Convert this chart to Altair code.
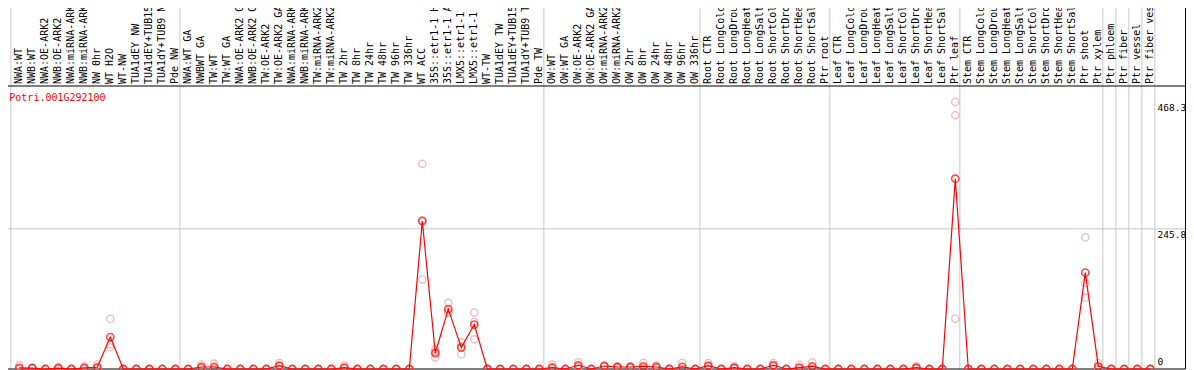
import altair as alt
import pandas as pd

gene = "Potri.001G292100"

categories = [
    "NWA:WT", "NWB:WT", "NWA:OE-ARK2", "NWB:OE-ARK2", "NWA:miRNA-ARK2", "NWB:miRNA-ARK2",
    "NW 0hr", "WT H2O", "WT-NW", "TUA1dEY NW", "TUA1dEY+TUB15 NW", "TUA1dY+TUB9 NW", "Pde NW",
    "NWA:WT GA", "NWBWT GA", "TW:WT", "TW:WT GA", "NWA:OE-ARK2 GA", "NWB:OE-ARK2 GA",
    "TW:OE-ARK2", "TW:OE-ARK2 GA", "NWA:miRNA-ARK2", "NWB:miRNA-ARK2", "TW:miRNA-ARK2",
    "TW:miRNA-ARK2", "TW 2hr", "TW 8hr", "TW 24hr", "TW 48hr", "TW 96hr", "TW 336hr",
    "WT ACC", "35S::etr1-1 H2O", "35S::etr1-1 ACC", "LMX5::etr1-1 H2O", "LMX5::etr1-1 ACC",
    "WT-TW", "TUA1dEY TW", "TUA1dEY+TUB15 TW", "TUA1dY+TUB9 TW", "Pde TW",
    "OW:WT", "OW:WT GA", "OW:OE-ARK2", "OW:OE-ARK2 GA", "OW:miRNA-ARK2", "OW:miRNA-ARK2",
    "OW 2hr", "OW 8hr", "OW 24hr", "OW 48hr", "OW 96hr", "OW 336hr",
    "Root CTR", "Root LongCold", "Root LongDrought", "Root LongHeat", "Root LongSalt",
    "Root ShortCold", "Root ShortDrought", "Root ShortHeat", "Root ShortSalt", "Ptr root",
    "Leaf CTR", "Leaf LongCold", "Leaf LongDrought", "Leaf LongHeat", "Leaf LongSalt",
    "Leaf ShortCold", "Leaf ShortDrought", "Leaf ShortHeat", "Leaf ShortSalt", "Ptr leaf",
    "Stem CTR", "Stem LongCold", "Stem LongDrought", "Stem LongHeat", "Stem LongSalt",
    "Stem ShortCold", "Stem ShortDrought", "Stem ShortHeat", "Stem ShortSalt", "Ptr shoot",
    "Ptr xylem", "Ptr phloem", "Ptr fiber", "Ptr vessel", "Ptr fiber vessel",
]

mean_values = [
    2, 1.5, 0, 1.5, 0, 2, 3, 56, 0, 0, 0, 0, 0,
    0, 3.5, 3.5, 0, 0, 0, 0, 6, 0, 0, 0, 0, 2.5, 0, 0, 0, 0, 0,
    259.5, 28, 105, 37.5, 78, 0, 0, 0, 0, 0,
    2.6, 0, 6.5, 0, 5.2, 3.5, 3.5, 4.7, 3.5, 0, 3.7, 0,
    5.8, 0, 2.3, 0, 0, 6.5, 0, 2.5, 4.7, 0,
    0, 0, 0, 0, 0, 0, 2.3, 0, 0, 333.8,
    0, 0, 0, 0, 0, 0, 0, 0, 0, 169, 4.7,
    0, 0, 0, 0,
]

rep1 = [
    6.5, 3, 0, 4, 0, 5, 8, 88, 0, 0, 0, 0, 0,
    0, 8, 9.5, 0, 0, 0, 0, 10.5, 0, 0, 0, 0, 6, 0, 0, 0, 0, 0,
    360, 34, 116, 47, 99, 0, 0, 0, 0, 0,
    7.7, 0, 12, 0, 6, 5, 5, 11, 6.5, 0, 11, 0,
    10.5, 0, 5, 0, 0, 10.5, 0, 7.6, 11.7, 0,
    0, 0, 0, 0, 0, 0, 5, 0, 0, 468.3,
    0, 0, 0, 0, 0, 0, 0, 0, 0, 231, 10.5,
    0, 0, 0, 0,
]
rep2 = [
    0, 1, 0, 0.5, 0, 1, 1, 43, 0, 0, 0, 0, 0,
    0, 2, 1, 0, 0, 0, 0, 5, 0, 0, 0, 0, 1, 0, 0, 0, 0, 0,
    261.5, 30, 100, 40, 83, 0, 0, 0, 0, 0,
    0, 0, 5, 0, 5, 3, 3.5, 2, 3, 0, 0, 0,
    4, 0, 1.5, 0, 0, 6, 0, 0, 2, 0,
    0, 0, 0, 0, 0, 0, 1.5, 0, 0, 445,
    0, 0, 0, 0, 0, 0, 0, 0, 0, 151, 3,
    0, 0, 0, 0,
]
rep3 = [
    0, 0.5, 0, 0, 0, 0, 0, 38, 0, 0, 0, 0, 0,
    0, 0.5, 0, 0, 0, 0, 0, 2.5, 0, 0, 0, 0, 0.5, 0, 0, 0, 0, 0,
    157, 20, 99, 26, 52, 0, 0, 0, 0, 0,
    0, 0, 2.5, 0, 4.5, 2.5, 2, 1, 1, 0, 0, 0,
    3, 0, 0.5, 0, 0, 3, 0, 0, 0.5, 0,
    0, 0, 0, 0, 0, 0, 0.5, 0, 0, 88,
    0, 0, 0, 0, 0, 0, 0, 0, 0, 125, 0.5,
    0, 0, 0, 0,
]

group_sizes = [13, 28, 12, 10, 10, 11, 1, 1, 1, 1]
y_ticks = [0, 245.8, 468.3]

# ---------------- layout ----------------
W, H = 1177, 283
FONT = "DejaVu Sans Mono"
x_scale = alt.Scale(domain=[-11.3 / 13, (W - 11.3) / 13], nice=False, zero=False)
y_scale = alt.Scale(domain=[0, 468.3 * 1.06], nice=False, zero=False)

idx = list(range(len(categories)))
cat_df = pd.DataFrame({"idx": idx, "cat": categories, "value": mean_values})
rep_df = pd.DataFrame({
    "idx": idx * 3,
    "value": rep1 + rep2 + rep3,
})

starts = []
s = 0
for g in group_sizes:
    starts.append(s)
    s += g
starts.append(s)
bound_df = pd.DataFrame({"idx": [b - 0.65 for b in starts]})

one = pd.DataFrame({"a": [0]})

X = alt.X("idx:Q", scale=x_scale, axis=None)
Y = alt.Y("value:Q", scale=y_scale, axis=None)

group_lines = alt.Chart(bound_df).mark_rule(color="#c8c8c8", strokeWidth=1).encode(
    x=X, y=alt.value(-80), y2=alt.value(H)
)

grid = alt.Chart(pd.DataFrame({"value": [y_ticks[1]]})).mark_rule(
    color="#c8c8c8", strokeWidth=1
).encode(y=Y, x=alt.value(0), x2=alt.value(W))

frame_top = alt.Chart(one).mark_rule(color="black", strokeWidth=1).encode(
    x=alt.value(0), x2=alt.value(W), y=alt.value(0)
)
frame_bottom = alt.Chart(one).mark_rule(color="black", strokeWidth=1).encode(
    x=alt.value(0), x2=alt.value(W), y=alt.value(H)
)
frame_right = alt.Chart(one).mark_rule(color="black", strokeWidth=1).encode(
    x=alt.value(W + 0.5), y=alt.value(-80), y2=alt.value(H)
)

labels = alt.Chart(cat_df).mark_text(
    angle=270, align="left", baseline="middle", font=FONT, fontSize=10, color="black"
).encode(x=X, y=alt.value(-2), text="cat:N")

reps = alt.Chart(rep_df).mark_point(
    shape="circle", size=52, filled=False, color="#f09a9a", strokeWidth=1.3
).encode(x=X, y=Y)

line = alt.Chart(cat_df).mark_line(color="red", strokeWidth=1.2).encode(x=X, y=Y)

means = alt.Chart(cat_df).mark_point(
    shape="circle", size=52, filled=False, color="red", strokeWidth=1.6
).encode(x=X, y=Y)

tick_df = pd.DataFrame({"value": y_ticks, "label": [str(t) for t in y_ticks]})
ytext_top = alt.Chart(tick_df).transform_filter("datum.value > 0").mark_text(
    align="left", baseline="top", font=FONT, fontSize=9.5, color="black", dy=1
).encode(x=alt.value(1149.5), y=Y, text="label:N")
ytext_zero = alt.Chart(tick_df).transform_filter("datum.value == 0").mark_text(
    align="left", baseline="bottom", font=FONT, fontSize=9.5, color="black", dy=-2
).encode(x=alt.value(1149.5), y=Y, text="label:N")

title = alt.Chart(one).mark_text(
    align="left", baseline="alphabetic", font=FONT, fontSize=10, color="red"
).encode(x=alt.value(1.3), y=alt.value(14.7), text=alt.value(gene))

chart = alt.layer(
    group_lines, grid, frame_top, frame_bottom, frame_right, labels,
    reps, line, means, ytext_top, ytext_zero, title,
).properties(
    width=W, height=H,
    autosize=alt.AutoSizeParams(type="none"),
    padding={"left": 0, "top": 78, "right": 1, "bottom": 1},
).configure_view(stroke=None)

chart.save("out.html", embed_options={"renderer": "svg", "actions": False})
